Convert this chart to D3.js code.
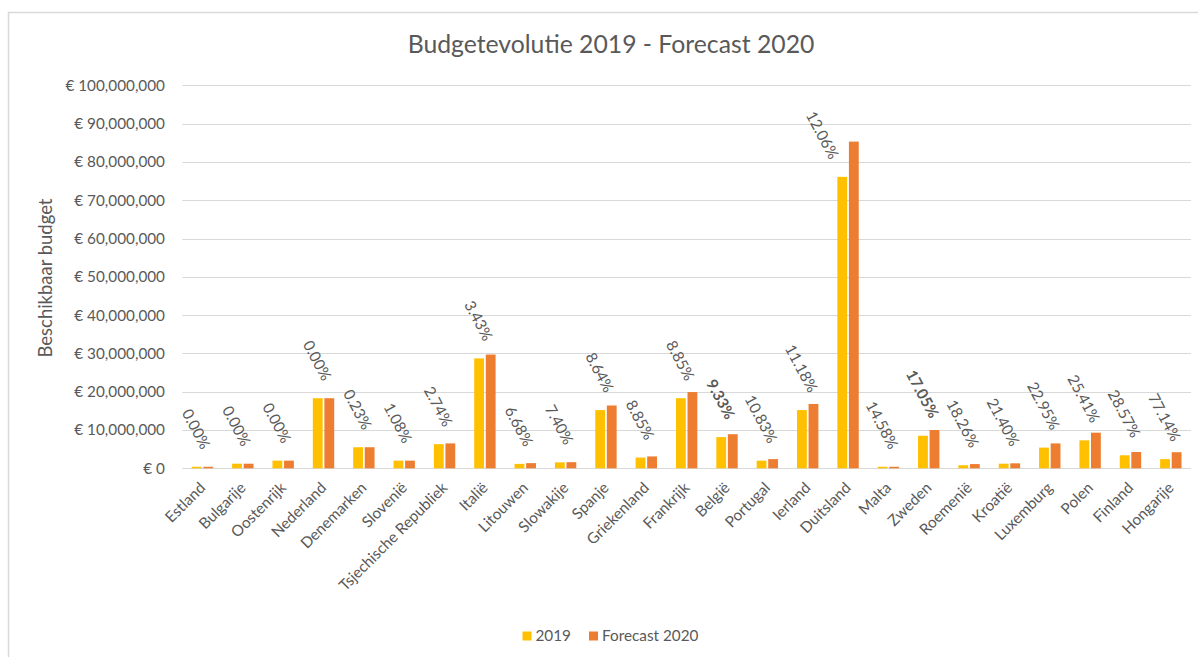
<!DOCTYPE html>
<html><head><meta charset="utf-8">
<script src="https://cdn.jsdelivr.net/npm/d3@7"></script>
<style>
html,body{margin:0;padding:0;background:#fff;}
text{font-family:Lato,"Open Sans",sans-serif;fill:#595959;}
</style></head>
<body><svg id="c" width="1198" height="657"></svg>
<script>
const categories = ["Estland","Bulgarije","Oostenrijk","Nederland","Denemarken","Slovenië","Tsjechische Republiek","Italië","Litouwen","Slowakije","Spanje","Griekenland","Frankrijk","België","Portugal","Ierland","Duitsland","Malta","Zweden","Roemenië","Kroatië","Luxemburg","Polen","Finland","Hongarije"];
const values2019 = [0.4,1.2,2.0,18.3,5.5,2.0,6.3,28.7,1.15,1.55,15.2,2.8,18.3,8.15,2.0,15.2,76.1,0.4,8.5,0.8,1.2,5.4,7.3,3.4,2.4].map(v=>v*1e6);
const values2020 = [0.4,1.2,2.0,18.3,5.5,2.0,6.5,29.7,1.35,1.6,16.4,3.1,19.9,8.9,2.4,16.8,85.3,0.4,10.0,1.1,1.3,6.5,9.3,4.25,4.2].map(v=>v*1e6);
const pctLabels = ["0.00%","0.00%","0.00%","0.00%","0.23%","1.08%","2.74%","3.43%","6.68%","7.40%","8.64%","8.85%","8.85%","9.33%","10.83%","11.18%","12.06%","14.58%","17.05%","18.26%","21.40%","22.95%","25.41%","28.57%","77.14%"];
const boldLabels = ["België","Zweden"];
const yTicks = [0,10e6,20e6,30e6,40e6,50e6,60e6,70e6,80e6,90e6,100e6];
const seriesNames = ["2019","Forecast 2020"];
const colors = ["#FFC000","#ED7D31"];
const title = "Budgetevolutie 2019 - Forecast 2020";
const yTitle = "Beschikbaar budget";

const FS = "15.3px";
const svg = d3.select("#c");
// frame
svg.append("path").attr("d","M8.5,657 V12.5 H1198").attr("fill","none").attr("stroke","#D9D9D9").attr("stroke-width",1.5);

const x = d3.scaleBand().domain(categories).range([182.3,1191]).paddingInner(0.47).paddingOuter(0.235);
const xi = d3.scaleBand().domain([0,1]).range([0,x.bandwidth()]).paddingInner(0.15);
const y = d3.scaleLinear().domain([0,100e6]).range([468.3,85.3]);

const fmt = v => "€ " + d3.format(",")(v);

// gridlines
svg.append("g").selectAll("line").data(yTicks).join("line")
  .attr("x1",182.3).attr("x2",1191).attr("y1",d=>Math.round(y(d))+0.5).attr("y2",d=>Math.round(y(d))+0.5)
  .attr("stroke","#D9D9D9").attr("stroke-width",1);

// y axis labels
const yAxis = d3.axisLeft(y).tickValues(yTicks).tickFormat(fmt).tickSize(0).tickPadding(0);
const ya = svg.append("g").attr("transform","translate(165,0)").call(yAxis);
ya.select(".domain").remove();
ya.selectAll("text").style("font-family","Lato").style("font-size",FS).attr("fill","#595959");

// bars
const data = categories.map((c,i)=>({c,i,vals:[values2019[i],values2020[i]]}));
const groups = svg.append("g").selectAll("g").data(data).join("g").attr("transform",d=>`translate(${x(d.c)},0)`);
groups.selectAll("rect").data(d=>d.vals.map((v,k)=>({v,k}))).join("rect")
  .attr("x",d=>xi(d.k)).attr("width",xi.bandwidth())
  .attr("y",d=>y(d.v)).attr("height",d=>y(0)-y(d.v)).attr("fill",d=>colors[d.k]);

// x axis labels
const xa = svg.append("g");
categories.forEach(c=>{
  xa.append("text").attr("transform",`translate(${x(c)+x.bandwidth()/2},485) rotate(-45)`)
    .attr("text-anchor","end").attr("dy","0.35em").style("font-size",FS).text(c);
});

// percentage labels (on 2019 series)
const lab = svg.append("g");
data.forEach(d=>{
  const cx = x(d.c) + xi(0) + xi.bandwidth()/2;
  const top = y(d.vals[0]);
  const g = lab.append("g").attr("transform",`translate(${cx},${top-15})`);
  const t = g.append("text").attr("transform","rotate(62)").style("font-size",FS)
     .style("font-weight", boldLabels.includes(d.c)?"bold":"normal")
     .attr("fill", boldLabels.includes(d.c)?"#404040":"#595959")
     .text(pctLabels[d.i]);
  const bb = g.node().getBBox();
  let dx = -bb.x - bb.width/2, dy = -bb.y - bb.height;
  // avoid overlap with the forecast bar
  const oLeft = x(d.c) + xi(1);
  const oTop = y(d.vals[1]);
  const bottom = top - 15;
  if (oTop < bottom && cx + dx + bb.x + bb.width > oLeft - 6) {
    dx -= (cx + dx + bb.x + bb.width) - (oLeft - 6);
  }
  t.attr("transform",`translate(${dx},${dy}) rotate(62)`);
});

// title
const tt = svg.append("text").attr("x",611).attr("y",53).attr("text-anchor","middle").style("font-size","22px").text(title);
let w = tt.node().getComputedTextLength(); tt.style("font-size",(22*407/w)+"px");

// y title
const yt = svg.append("text").attr("transform","translate(52,278) rotate(-90)").attr("text-anchor","middle").style("font-size","15px").text(yTitle);
w = yt.node().getComputedTextLength(); yt.style("font-size",(15*159/w)+"px");

// legend
const leg = svg.append("g");
const lx = [522.5, 589];
seriesNames.forEach((s,k)=>{
  leg.append("rect").attr("x",lx[k]).attr("y",631.5).attr("width",9).attr("height",9).attr("fill",colors[k]);
  leg.append("text").attr("x",lx[k]+13).attr("y",636).attr("dy","0.35em").style("font-size",FS).text(s);
});
</script></body></html>
